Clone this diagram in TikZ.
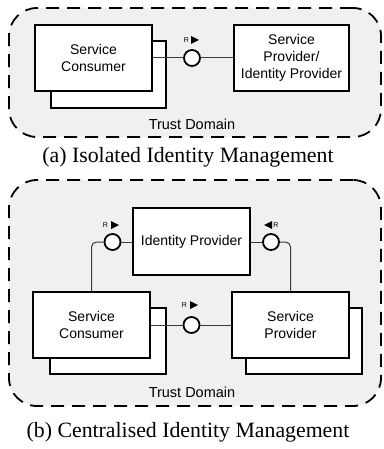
\documentclass[tikz,border=0pt]{standalone}
\usepackage{fontspec}
\setmainfont{Liberation Serif}
\setsansfont{Liberation Sans}
\definecolor{domfill}{HTML}{F0F0F0}
\definecolor{conn}{HTML}{3A3A3A}
\begin{document}
\begin{tikzpicture}[x=1pt,y=-1pt,
  domain/.style={draw=black, fill=domfill, dash pattern=on 13pt off 8pt, line width=1.8pt, rounded corners=28pt, minimum width=#1, inner sep=0pt},
  compbox/.style={draw=black, fill=white, line width=1.8pt, inner sep=0pt, align=center,
    font=\sffamily\fontsize{14}{17}\selectfont},
  iface/.style={circle, draw=black, fill=white, line width=1.8pt, minimum size=16pt, inner sep=0pt},
  wire/.style={draw=conn, line width=1pt},
  rlab/.style={font=\sffamily\fontsize{7}{8}\selectfont, inner sep=0pt},
  tri/.style={fill=black},
  captext/.style={font=\fontsize{21.8}{24}\selectfont, inner sep=0pt},
  dtitle/.style={font=\sffamily\fontsize{14.5}{17}\selectfont, inner sep=0pt}
]
\useasboundingbox (0,0) rectangle (383,449);
% ---------- (a) ----------
\node[domain=372pt, minimum height=129pt] (doma) at (195,72.5) {};
\node[compbox, minimum width=115pt, minimum height=67pt] (scaback) at (108.5,74.5) {};
\node[compbox, minimum width=117pt, minimum height=66pt] (sca) at (93.5,58) {Service\\Consumer};
\node[compbox, minimum width=115pt, minimum height=66pt] (spa) at (291.5,58) {Service\\Provider/\\Identity Provider};
\node[iface] (ca) at (192,58) {};
\draw[wire] (sca.east) -- (ca.west);
\draw[wire] (ca.east) -- (spa.west);
\node[rlab] (ra) at (186.5,40) {R};
\fill[tri] (191,36) -- (199,40) -- (191,44) -- cycle;
\node[dtitle] (tda) at (192,124) {Trust Domain};
\node[captext] (capa) at (188,157) {(a) Isolated Identity Management};
% ---------- (b) ----------
\node[domain=372pt, minimum height=226pt] (domb) at (195,293) {};
\node[compbox, minimum width=117pt, minimum height=67pt] (idp) at (191.5,241.5) {Identity Provider};
\node[compbox, minimum width=116pt, minimum height=66pt] (scbback) at (108,341) {};
\node[compbox, minimum width=117pt, minimum height=66pt] (scb) at (91.5,325) {Service\\Consumer};
\node[compbox, minimum width=116pt, minimum height=66pt] (spbback) at (304,341) {};
\node[compbox, minimum width=117pt, minimum height=66pt] (spb) at (290.5,325) {Service\\Provider};
\node[iface] (cl) at (112.5,242) {};
\node[iface] (cr) at (271,242) {};
\node[iface] (cm) at (191.5,325) {};
\draw[wire, rounded corners=5pt] (cl.west) -| (scb.north);
\draw[wire] (cl.east) -- (cl.east -| idp.west);
\draw[wire] (cr.west) -- (cr.west -| idp.east);
\draw[wire, rounded corners=5pt] (cr.east) -| (spb.north);
\draw[wire] (scb.east) -- (cm.west);
\draw[wire] (cm.east) -- (spb.west);
\node[rlab] (rl) at (105.5,225) {R};
\fill[tri] (111,221) -- (119,225) -- (111,229) -- cycle;
\node[rlab] (rr) at (276,225) {R};
\fill[tri] (272,221) -- (264,225) -- (272,229) -- cycle;
\node[rlab] (rm) at (184.5,305) {R};
\fill[tri] (190,301) -- (198,305) -- (190,309) -- cycle;
\node[dtitle] (tdb) at (192,392) {Trust Domain};
\node[captext] (capb) at (188,432) {(b) Centralised Identity Management};
\end{tikzpicture}
\end{document}
